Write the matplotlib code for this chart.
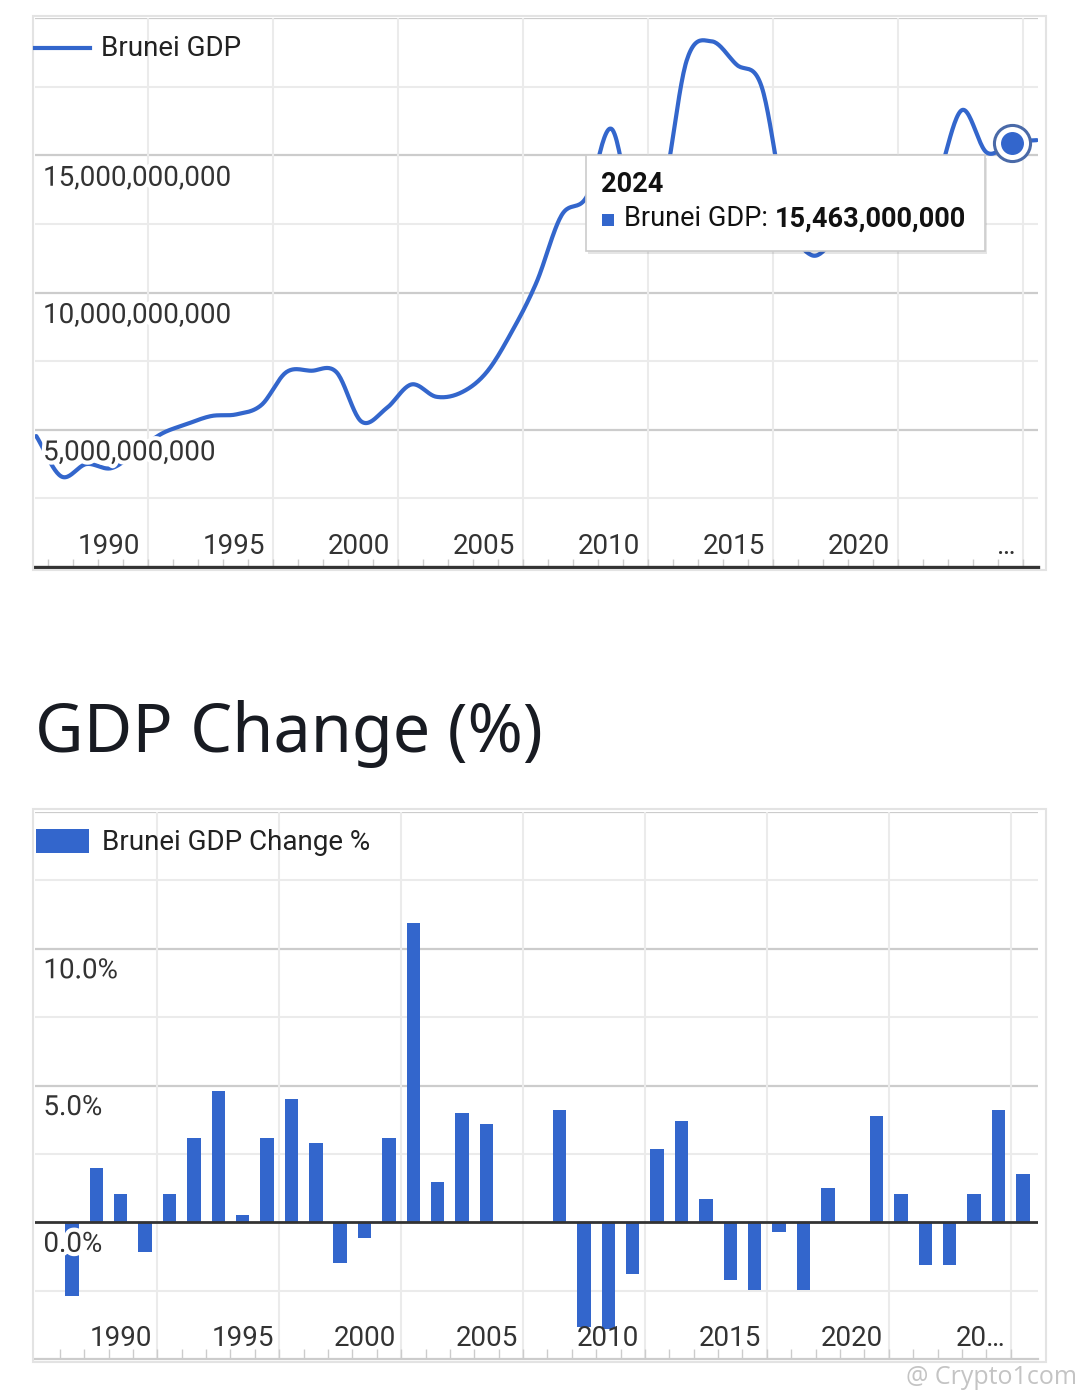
import numpy as np
import matplotlib
matplotlib.use("Agg")
import matplotlib.pyplot as plt
from matplotlib.patches import Rectangle, FancyBboxPatch
from matplotlib import patheffects as pe
from matplotlib.transforms import offset_copy

# ---------------- data ----------------
gdp_years = list(range(1985, 2026))
gdp_values_bn = [4.77, 3.30, 3.75, 3.60, 4.20, 4.85, 5.20, 5.50, 5.56, 5.90,
                 7.10, 7.15, 7.10, 5.30, 5.78, 6.65, 6.20, 6.36, 7.09, 8.55,
                 10.37, 12.81, 13.48, 15.96, 12.30, 13.40, 18.44, 19.15, 18.30, 17.50,
                 12.90, 11.36, 12.10, 13.60, 13.50, 12.00, 14.00, 16.64, 15.10, 15.463,
                 15.55]
gdp_values = [v * 1e9 for v in gdp_values_bn]
tooltip_year = 2024

chg_years = list(range(1988, 2028))
chg_values = [-2.69, 1.98, 1.05, -1.07, 1.05, 3.09, 4.81, 0.25, 3.09, 4.51,
              2.88, -1.48, -0.56, 3.09, 10.95, 1.46, 4.01, 3.59, 0.0, 0.0,
              4.10, -3.83, -3.89, -1.88, 2.68, 3.70, 0.84, -2.10, -2.49, -0.37,
              -2.49, 1.26, 0.0, 3.90, 1.05, -1.58, -1.58, 1.05, 4.10, 1.75]

top_tick_labels = ["1990", "1995", "2000", "2005", "2010", "2015", "2020", "\u2026"]
top_tick_label_years = [1990, 1995, 2000, 2005, 2010, 2015, 2020, 2025.9]
top_yticks = [5e9, 10e9, 15e9]

bot_tick_labels = ["1990", "1995", "2000", "2005", "2010", "2015", "2020", "20\u2026"]
bot_tick_label_years = [1990, 1995, 2000, 2005, 2010, 2015, 2020, 2025.25]
bot_yticks = [0.0, 5.0, 10.0]

series_name = "Brunei GDP"
bar_series_name = "Brunei GDP Change %"
title = "GDP Change (%)"

# ---------------- style ----------------
BLUE = "#3366cc"
TXT = "#333333"
GRID_MINOR = "#ebebeb"
GRID_MAJOR = "#cccccc"
FONT = ["Roboto", "DejaVu Sans"]
plt.rcParams["font.family"] = FONT
FS = 20
FS_TIP = 19.5

W, H = 1080, 1400
fig = plt.figure(figsize=(W / 100, H / 100), dpi=100)
fig.patch.set_facecolor("white")


def fx(px):
    return px / W


def fy(py):
    return 1 - py / H


def smooth(x, y, n=24):
    P = np.column_stack([np.asarray(x, float), np.asarray(y, float)])
    E = np.vstack([2 * P[0] - P[1], P, 2 * P[-1] - P[-2]])
    out = []
    t = np.linspace(0, 1, n, endpoint=False)[:, None]
    for i in range(len(P) - 1):
        p0, p1, p2, p3 = E[i], E[i + 1], E[i + 2], E[i + 3]
        seg = 0.5 * (2 * p1 + (-p0 + p2) * t + (2 * p0 - 5 * p1 + 4 * p2 - p3) * t ** 2
                     + (-p0 + 3 * p1 - 3 * p2 + p3) * t ** 3)
        out.append(seg)
    out.append(P[-1:])
    S = np.vstack(out)
    return S[:, 0], S[:, 1]


halo = [pe.withStroke(linewidth=6, foreground="white")]

# ---------------- outer frames ----------------
for (x0, y0, x1, y1) in [(33, 16, 1046, 570), (33, 809, 1046, 1362)]:
    fig.patches.append(Rectangle((fx(x0), fy(y1)), fx(x1) - fx(x0), fy(y0) - fy(y1),
                                 transform=fig.transFigure, fill=False,
                                 edgecolor="#e3e3e3", linewidth=1.5, zorder=0))

# ================= TOP: line chart =================
ax1 = fig.add_axes([fx(35), fy(567), fx(1038) - fx(35), fy(18) - fy(567)])
ax1.set_xlim(1984.95, 2025.05)
ax1.set_ylim(0, 20e9)
for s in ["top", "left", "right"]:
    ax1.spines[s].set_visible(False)
ax1.spines["bottom"].set_color(TXT)
ax1.spines["bottom"].set_linewidth(2.4)
ax1.set_yticks([])

grid_top = np.arange(gdp_years[0] + 4.45, gdp_years[-1], 5)
ax1.set_xticks(grid_top)
ax1.set_xticks(np.arange(gdp_years[0] + 0.45, gdp_years[-1], 1), minor=True)
ax1.set_xticklabels([])
ax1.tick_params(axis="x", which="both", direction="in", length=6, width=1,
                color=GRID_MAJOR)
ax1.grid(axis="x", which="major", color=GRID_MINOR, linewidth=1.5, zorder=0)
ax1.set_axisbelow(True)
for v in np.arange(2.5e9, 20.01e9, 2.5e9):
    major = (round(v / 2.5e9) % 2 == 0)
    ax1.axhline(v, color=GRID_MAJOR if major else GRID_MINOR,
                linewidth=1.6 if major else 1.5, zorder=0.5)

sx, sy = smooth(gdp_years, gdp_values)
ax1.plot(sx, sy, color=BLUE, linewidth=3.0, solid_capstyle="round", zorder=3)

ytr1 = offset_copy(ax1.get_yaxis_transform(), fig=fig, x=0, y=-23, units="dots")
for v in top_yticks:
    ax1.text(0.008, v, f"{v:,.0f}", transform=ytr1, ha="left", va="center",
             fontsize=FS, color=TXT, zorder=5, path_effects=halo)

xtr1 = ax1.get_xaxis_transform()
label_shift = 2.1
for lab, yr in zip(top_tick_labels, top_tick_label_years):
    ax1.text(yr - label_shift, 0.037, lab, transform=xtr1, ha="center", va="center",
             fontsize=FS, color=TXT, zorder=5)

# highlighted point
ti = gdp_years.index(tooltip_year)
ax1.plot([gdp_years[ti]], [gdp_values[ti]], marker="o", markersize=26,
         markerfacecolor="white", markeredgecolor="#4a6aa8", markeredgewidth=2.2,
         zorder=6, clip_on=False)
ax1.plot([gdp_years[ti]], [gdp_values[ti]], marker="o", markersize=15.5,
         markerfacecolor=BLUE, markeredgecolor=BLUE, zorder=7, clip_on=False)

# legend (top)
fig.add_artist(plt.Line2D([fx(35), fx(90)], [fy(48), fy(48)], transform=fig.transFigure,
                          color=BLUE, linewidth=3.0))
fig.text(fx(101), fy(48), series_name, ha="left", va="center", fontsize=FS, color="#222222")

# tooltip
tx0, ty0, tx1, ty1 = 586, 155, 985, 251
fig.patches.append(FancyBboxPatch((fx(tx0 + 2), fy(ty1 + 3)), fx(tx1) - fx(tx0), fy(ty0) - fy(ty1),
                                  boxstyle="square,pad=0", transform=fig.transFigure,
                                  facecolor="#000000", alpha=0.10, edgecolor="none", zorder=8))
fig.patches.append(FancyBboxPatch((fx(tx0), fy(ty1)), fx(tx1) - fx(tx0), fy(ty0) - fy(ty1),
                                  boxstyle="square,pad=0", transform=fig.transFigure,
                                  facecolor="white", edgecolor="#cccccc", linewidth=1.2, zorder=9))
fig.text(fx(601), fy(185), str(tooltip_year), ha="left", va="center", fontsize=FS_TIP,
         fontweight="bold", color="#111111", zorder=10)
fig.patches.append(Rectangle((fx(602), fy(226)), fx(614) - fx(602), fy(214) - fy(226),
                             transform=fig.transFigure, facecolor=BLUE, edgecolor="none", zorder=10))
t1 = fig.text(fx(624), fy(219), f"{series_name}: ", ha="left", va="center", fontsize=FS_TIP,
              color="#111111", zorder=10)
fig.canvas.draw()
bb = t1.get_window_extent()
fig.text(bb.x1 / W, fy(219), f"{gdp_values[ti]:,.0f}", ha="left", va="center", fontsize=FS_TIP,
         fontweight="bold", color="#111111", zorder=10)

# ================= TITLE =================
fig.text(fx(35), fy(752), title, ha="left", va="baseline", fontsize=48,
         fontweight="medium", family=["Noto Sans", "DejaVu Sans"], color="#181b22")

# ================= BOTTOM: bar chart =================
ax2 = fig.add_axes([fx(35.4), fy(1359), fx(1038) - fx(35.4), fy(812) - fy(1359)])
ax2.set_xlim(chg_years[0] - 1.5, chg_years[-1] + 0.62)
ax2.set_ylim(-5, 15)
for s in ["top", "left", "right"]:
    ax2.spines[s].set_visible(False)
ax2.spines["bottom"].set_color(GRID_MAJOR)
ax2.spines["bottom"].set_linewidth(1.6)
ax2.set_yticks([])
grid_bot = np.arange(chg_years[0] + 3.5, chg_years[-1], 5)
ax2.set_xticks(grid_bot)
ax2.set_xticks(np.arange(chg_years[0] - 0.5, chg_years[-1], 1), minor=True)
ax2.set_xticklabels([])
ax2.tick_params(axis="x", which="both", direction="in", length=7, width=1,
                color=GRID_MAJOR)
ax2.grid(axis="x", which="major", color=GRID_MINOR, linewidth=1.5, zorder=0)
ax2.set_axisbelow(True)
for v in np.arange(-2.5, 15.01, 2.5):
    if abs(v) < 1e-9:
        continue
    major = (round(v / 2.5) % 2 == 0)
    ax2.axhline(v, color=GRID_MAJOR if major else GRID_MINOR,
                linewidth=1.6 if major else 1.5, zorder=0.5)

ax2.bar(chg_years, chg_values, width=0.55, color=BLUE, zorder=3)
ax2.axhline(0, color=TXT, linewidth=2.0, zorder=4)

ytr2 = offset_copy(ax2.get_yaxis_transform(), fig=fig, x=0, y=-22, units="dots")
for v in bot_yticks:
    ax2.text(0.008, v, f"{v:.1f}%", transform=ytr2, ha="left", va="center",
             fontsize=FS, color=TXT, zorder=5, path_effects=halo)

xtr2 = ax2.get_xaxis_transform()
for lab, yr in zip(bot_tick_labels, bot_tick_label_years):
    ax2.text(yr, 0.037, lab, transform=xtr2, ha="center", va="center",
             fontsize=FS, color=TXT, zorder=5)

# legend (bottom)
fig.patches.append(Rectangle((fx(36), fy(853)), fx(89) - fx(36), fy(829) - fy(853),
                             transform=fig.transFigure, facecolor=BLUE, edgecolor="none"))
fig.text(fx(101.5), fy(842), bar_series_name, ha="left", va="center", fontsize=FS,
         color="#222222")

# watermark
fig.text(fx(906), fy(1377), "@ Crypto1com", ha="left", va="center", fontsize=18,
         family=["Open Sans", "DejaVu Sans"], color="#c4c4c4")

fig.savefig("out.png", dpi=100, facecolor="white")
